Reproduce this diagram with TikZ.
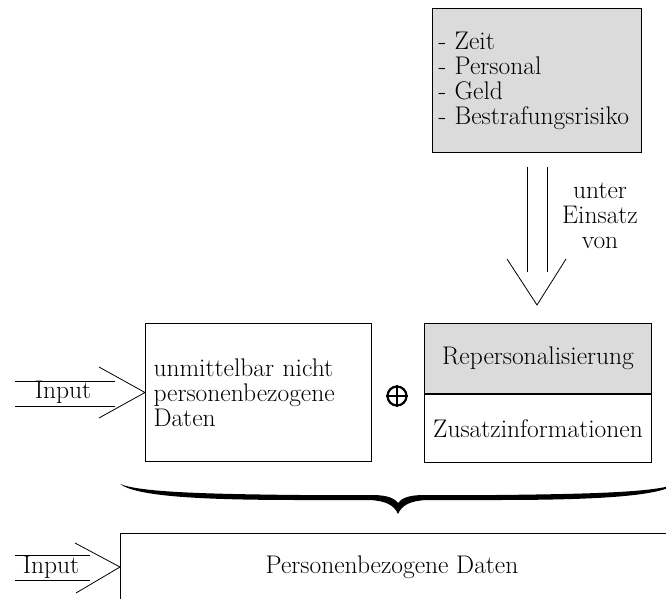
\documentclass[tikz,border=0pt]{standalone}
\usepackage{fontspec}
\definecolor{boxgrey}{gray}{0.86}
\tikzset{
  txt/.style={font=\fontsize{25.5}{25}\selectfont, inner sep=0pt},
  kasten/.style={draw, line width=1pt, anchor=north west, font=\fontsize{25.5}{25}\selectfont}
}
\begin{document}
\begin{tikzpicture}[x=1pt,y=-1pt]
\useasboundingbox (0,0) rectangle (666,599);
\clip (0,0) rectangle (666,599);
%Mittel
\node[kasten, fill=boxgrey, minimum width=209pt, minimum height=144pt,
  text width=197pt, inner xsep=6pt, align=left] (mittel) at (432,8)
  {- Zeit\\- Personal\\- Geld\\- Bestrafungsrisiko};
\node[txt, align=center] (einsatz) at (600,216) {unter\\Einsatz\\von};
\coordinate (spitze) at (537,305);
\draw[line width=0.8pt] (527,167) -- (527,272) (547,167) -- (547,272);
\draw[line width=0.8pt] (507,259) -- (spitze) -- (566,259);
%Daten
\node[kasten, minimum width=226pt, minimum height=138pt, text width=210pt,
  inner xsep=8pt, align=left] (daten) at (145,323)
  {unmittelbar nicht\\personenbezogene\\Daten};
\node[circle, draw, line width=2.2pt, minimum size=19pt, inner sep=0pt] (plus) at (397,396) {};
\draw[line width=2.2pt] (plus.north) -- (plus.south) (plus.west) -- (plus.east);
\node[kasten, fill=boxgrey, minimum width=227pt, minimum height=70pt] (repers) at (424,323) {Repersonalisierung};
\node[kasten, minimum width=227pt, minimum height=68pt, inner xsep=1pt] (zusatz) at (repers.south west) {Zusatzinformationen};
%Input
\node[txt] (input) at (63,392) {Input};
\draw[line width=0.8pt] (15,381) -- (115,381) (15,406) -- (115,406);
\draw[line width=0.8pt] (99,367) -- (daten.west) -- (99,418);
%Klammer
\fill (120,484) .. controls (140,492) and (200,494) .. (300,495) -- (372,495)
  .. controls (389,495) and (395,499) .. (398,503)
  .. controls (401,499) and (407,495) .. (424,495) -- (496,495)
  .. controls (596,494) and (656,492) .. (676,484)
  .. controls (660,496) and (600,500) .. (496,500) -- (426,500)
  .. controls (410,501) and (402,505) .. (398,514)
  .. controls (394,505) and (386,501) .. (370,500) -- (300,500)
  .. controls (196,500) and (136,496) .. (120,484) -- cycle;
%Personenbezogene Daten
\draw[line width=1pt] (120,620) |- (680,533);
\coordinate (pbdlinks) at (120,567);
\node[txt] (pbd) at (392,567) {Personenbezogene Daten};
\node[txt] (input2) at (51,567) {Input};
\draw[line width=0.8pt] (15,555) -- (90,555) (15,580) -- (90,580);
\draw[line width=0.8pt] (75,543) -- (pbdlinks) -- (76,593);
\end{tikzpicture}
\end{document}
